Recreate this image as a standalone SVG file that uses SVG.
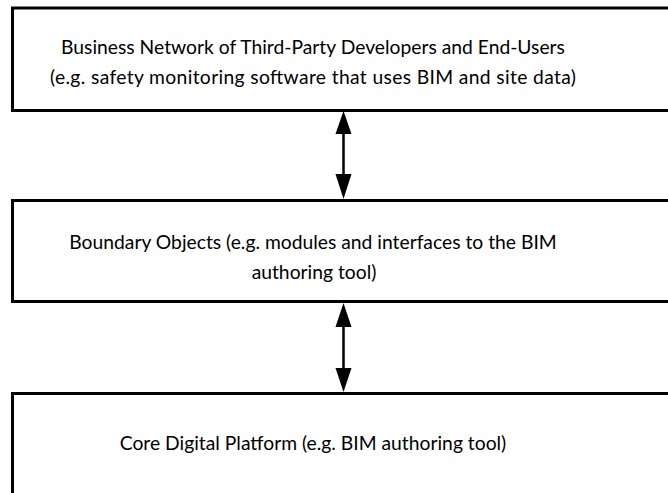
<svg xmlns="http://www.w3.org/2000/svg" width="668" height="493" viewBox="0 0 668 493">
  <style>
    .box { fill: #ffffff; stroke: #000000; stroke-width: 3; }
    .lbl { font-family: "Lato", "Liberation Sans", sans-serif; font-size: 19.3px; fill: #000000; text-anchor: middle; }
    .link { stroke: #000000; stroke-width: 2.5; fill: none; }
    .head { fill: #000000; }
  </style>
  <rect width="668" height="493" fill="#ffffff"/>

  <!-- top tier -->
  <g id="business-network">
    <rect class="box" x="12.5" y="8" width="680" height="102.5"/>
    <text class="lbl" x="313" y="54">Business Network of Third-Party Developers and End-Users</text>
    <text class="lbl" x="313" y="84" textLength="526" lengthAdjust="spacing">(e.g. safety monitoring software that uses BIM and site data)</text>
  </g>

  <!-- middle tier -->
  <g id="boundary-objects">
    <rect class="box" x="12.5" y="200.5" width="680" height="101"/>
    <text class="lbl" x="313" y="249">Boundary Objects (e.g. modules and interfaces to the BIM</text>
    <text class="lbl" x="314" y="279">authoring tool)</text>
  </g>

  <!-- bottom tier -->
  <g id="core-platform">
    <rect class="box" x="12.5" y="393.5" width="680" height="120"/>
    <text class="lbl" x="313" y="450">Core Digital Platform (e.g. BIM authoring tool)</text>
  </g>

  <!-- two-way connectors between tiers -->
  <g id="connectors">
    <line class="link" x1="343.5" y1="130" x2="343.5" y2="178"/>
    <polygon class="head" points="343.5,111 335.5,134 351.5,134"/>
    <polygon class="head" points="343.5,199 335.5,174 351.5,174"/>
    <line class="link" x1="343.5" y1="323" x2="343.5" y2="372"/>
    <polygon class="head" points="343.5,303 335.5,327 351.5,327"/>
    <polygon class="head" points="343.5,392 335.5,368 351.5,368"/>
  </g>
</svg>
